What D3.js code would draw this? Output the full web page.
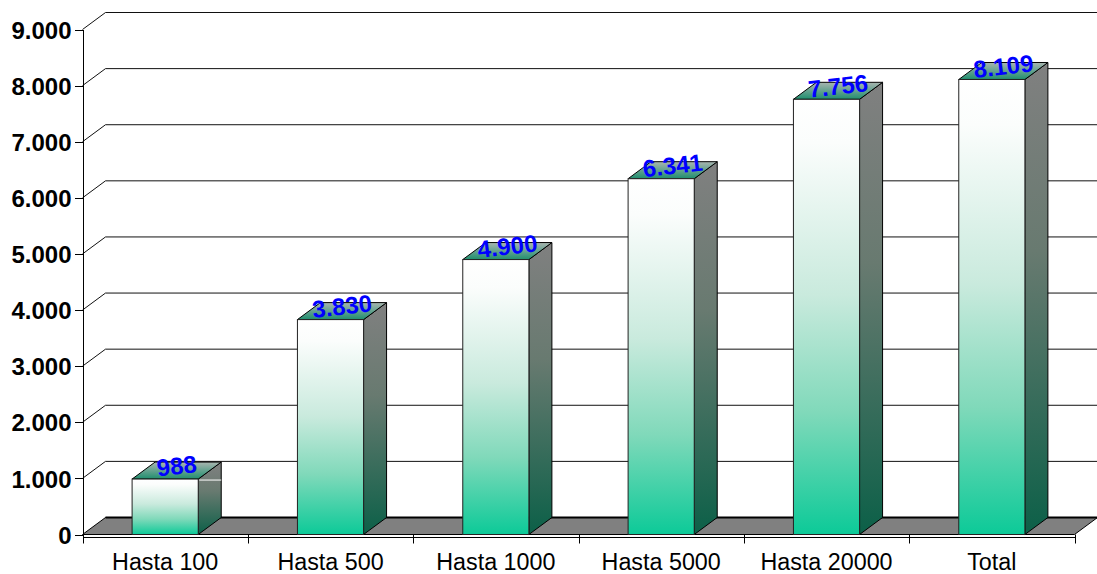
<!DOCTYPE html>
<html>
<head>
<meta charset="utf-8">
<title>Hasta</title>
<style>
html, body { margin: 0; padding: 0; background: #fff; }
svg { display: block; }
text { font-family: "Liberation Sans", Arial, sans-serif; }
.y.axis text { font-size: 24px; font-weight: bold; fill: #000; }
.x.axis text { font-size: 23.3px; fill: #000; }
.axis path, .axis line { stroke: #000; stroke-width: 1px; shape-rendering: crispEdges; }
.grid { fill: none; stroke: #111; stroke-width: 1px; }
.value { font-size: 24px; font-weight: bold; fill: #0000ff; text-anchor: middle; }
</style>
</head>
<body>
<svg id="chart" width="1097" height="574"></svg>
<script src="https://d3js.org/d3.v7.min.js"></script>
<script>
var categories = ["Hasta 100", "Hasta 500", "Hasta 1000", "Hasta 5000", "Hasta 20000", "Total"];
var values = [988, 3830, 4900, 6341, 7756, 8109];
var valueLabels = ["988", "3.830", "4.900", "6.341", "7.756", "8.109"];
var yTicks = [0, 1000, 2000, 3000, 4000, 5000, 6000, 7000, 8000, 9000];
var yTickLabels = ["0", "1.000", "2.000", "3.000", "4.000", "5.000", "6.000", "7.000", "8.000", "9.000"];

var plotLeft = 82.5, plotRight = 1074.5, plotBottom = 534.5, plotTop = 29.5;
var depthX = 23, depthY = 17;
var barRatio = 0.4;

var svg = d3.select("#chart");

var xscale = d3.scaleBand().domain(categories).range([plotLeft, plotRight]);
var yscale = d3.scaleLinear().domain([0, 9000]).range([plotBottom, plotTop]);

var defs = svg.append("defs");

function gradient(id, stops) {
  var g = defs.append("linearGradient")
    .attr("id", id)
    .attr("x1", 0).attr("y1", 0).attr("x2", 0).attr("y2", 1);
  stops.forEach(function(s) {
    g.append("stop").attr("offset", s[0]).attr("stop-color", s[1]);
  });
}
gradient("front", [[0, "#ffffff"], [0.1, "#fbfdfc"], [0.45, "#c9eadd"], [0.72, "#80d9ba"], [1, "#0cca98"]]);
gradient("side", [[0, "#808080"], [0.4, "#687a70"], [1, "#0c6048"]]);
gradient("cap", [[0, "#a9b5b0"], [1, "#1f8f6e"]]);

// floor
svg.append("path")
  .attr("d", d3.line()([
    [plotLeft, plotBottom],
    [plotLeft + depthX, plotBottom - depthY],
    [plotRight + depthX, plotBottom - depthY],
    [plotRight, plotBottom]
  ]) + "Z")
  .attr("fill", "#808080")
  .attr("stroke", "#000")
  .attr("stroke-width", 1);

svg.append("line")
  .attr("x1", plotLeft + depthX).attr("x2", plotRight + depthX)
  .attr("y1", plotBottom - depthY).attr("y2", plotBottom - depthY)
  .attr("stroke", "#000").attr("stroke-width", 2);

// back wall gridlines
svg.selectAll("path.grid")
  .data(yTicks.slice(1))
  .enter().append("path")
    .attr("class", "grid")
    .attr("d", function(d) {
      return d3.line()([
        [plotLeft, yscale(d)],
        [plotLeft + depthX, yscale(d) - depthY],
        [plotRight + depthX, yscale(d) - depthY]
      ]);
    });

var yAxis = d3.axisLeft(yscale)
  .tickValues(yTicks)
  .tickSize(8)
  .tickPadding(3)
  .tickFormat(function(d, i) { return yTickLabels[i]; });

svg.append("g")
  .attr("class", "y axis")
  .attr("transform", "translate(" + plotLeft + ",0)")
  .call(yAxis)
  .selectAll("text").attr("dy", "0.36em");

var xAxis = d3.axisBottom(xscale).tickSize(0).tickPadding(17);

svg.append("g")
  .attr("class", "x axis")
  .attr("transform", "translate(0," + (plotBottom + 2) + ")")
  .call(xAxis);

// category separators sit on the band edges
var edges = categories.map(function(d) { return xscale(d); }).concat([plotRight]);
svg.selectAll("line.sep")
  .data(edges)
  .enter().append("line")
    .attr("class", "sep")
    .attr("x1", function(d) { return Math.round(d) + 0.5; })
    .attr("x2", function(d) { return Math.round(d) + 0.5; })
    .attr("y1", plotBottom)
    .attr("y2", plotBottom + 9)
    .attr("stroke", "#000");

var bars = svg.selectAll("g.bar")
  .data(values)
  .enter().append("g")
    .attr("class", "bar");

function barX(i) {
  return xscale(categories[i]) + xscale.bandwidth() * (1 - barRatio) / 2;
}
var barW = xscale.bandwidth() * barRatio;

bars.append("path")
  .attr("fill", "url(#side)")
  .attr("stroke", "#000")
  .attr("d", function(d, i) {
    var x = barX(i) + barW, y = yscale(d);
    return d3.line()([[x, y], [x + depthX, y - depthY], [x + depthX, plotBottom - depthY], [x, plotBottom]]) + "Z";
  });

bars.append("path")
  .attr("fill", "url(#cap)")
  .attr("stroke", "#000")
  .attr("d", function(d, i) {
    var x = barX(i), y = yscale(d);
    return d3.line()([[x, y], [x + depthX, y - depthY], [x + barW + depthX, y - depthY], [x + barW, y]]) + "Z";
  });

bars.append("rect")
  .attr("fill", "url(#front)")
  .attr("stroke", "#222")
  .attr("x", function(d, i) { return barX(i); })
  .attr("y", function(d) { return yscale(d); })
  .attr("width", barW)
  .attr("height", function(d) { return plotBottom - yscale(d); });

// the 1.000 gridline shows as a white sliver across the first bar's side
svg.append("line")
  .attr("x1", barX(0) + barW + 1).attr("x2", barX(0) + barW + depthX)
  .attr("y1", yscale(values[0]) + 1).attr("y2", yscale(values[0]) + 1)
  .attr("stroke", "#fff");

bars.append("text")
  .attr("class", "value")
  .attr("transform", function(d, i) {
    var cx = barX(i) + barW / 2 + depthX / 2;
    var cy = yscale(d) - 13.5;
    return "translate(" + cx + "," + cy + ") rotate(-6.5)";
  })
  .attr("dy", "0.36em")
  .text(function(d, i) { return valueLabels[i]; });
</script>
</body>
</html>
